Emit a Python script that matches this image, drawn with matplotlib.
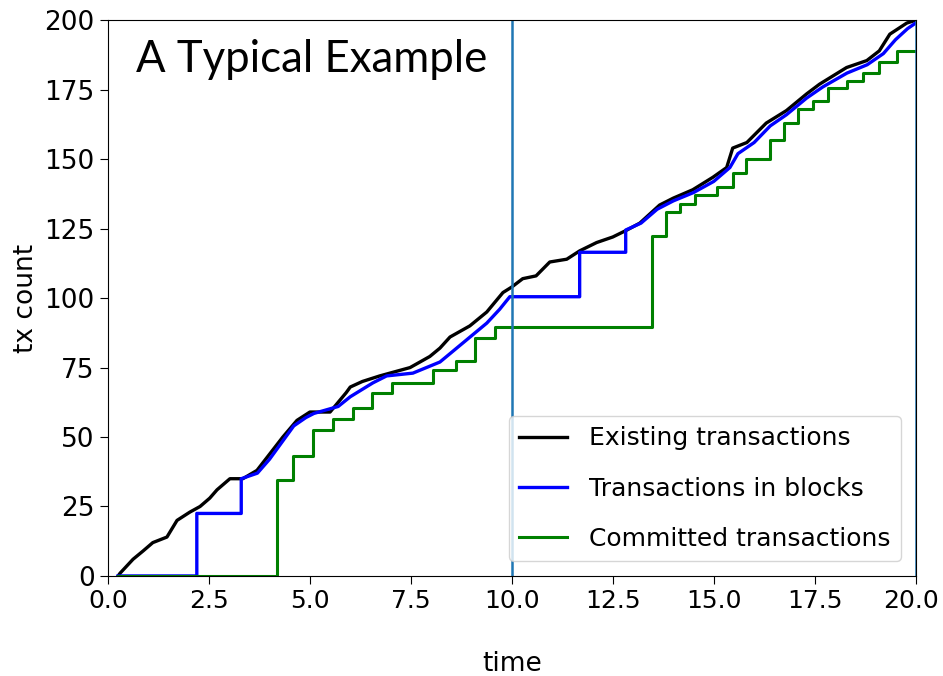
import matplotlib
matplotlib.use('Agg')
import matplotlib.pyplot as plt
import matplotlib.transforms as mtransforms

plt.rcParams['font.size'] = 18

# existing transactions (black)
exist_t = [0.25, 0.3, 0.62, 0.87, 1.11, 1.46, 1.71, 2.03, 2.28, 2.52, 2.7, 3.02, 3.34,
           3.69, 4.01, 4.33, 4.68, 5.0, 5.5, 5.9, 6.0, 6.3, 6.73, 7.48, 7.97, 8.22,
           8.47, 8.96, 9.38, 9.78, 10.0, 10.27, 10.6, 10.94, 11.36, 11.68, 12.1,
           12.5, 12.85, 13.17, 13.66, 14.0, 14.48, 14.98, 15.32, 15.47, 15.82,
           16.3, 16.8, 17.3, 17.62, 18.29, 18.79, 19.1, 19.36, 19.78, 20.0]
exist_n = [0, 1, 6, 9, 12, 14, 20, 23, 25, 28, 31, 35, 35,
           38, 44, 50, 56, 59, 59, 66, 68, 70, 72, 75, 79, 82,
           86, 90, 95, 102, 104, 107, 108, 113, 114, 117, 120,
           122, 124.5, 127, 133.5, 136, 139, 143.5, 147, 154, 156,
           163, 167.5, 173.5, 177, 183, 185.5, 189, 195, 199, 200]

# transactions in blocks (blue); repeated times are the block jumps
block_t = [0.25, 2.2, 2.2, 3.3, 3.3, 3.7, 4.0, 4.3, 4.6, 4.9, 5.1, 5.7, 6.0, 6.56,
           6.9, 7.55, 8.22, 8.8, 9.38, 9.7, 9.95, 11.68, 11.68, 12.82, 12.82,
           13.2, 13.6, 14.0, 14.5, 15.0, 15.4, 15.6, 16.0, 16.4, 16.8, 17.3,
           17.7, 18.3, 18.8, 19.2, 19.5, 19.8, 20.0]
block_n = [0, 0, 22.5, 22.5, 35, 37, 42, 48, 54, 57, 58.5, 61, 64.5, 69.5,
           72, 73, 77, 84, 91, 96, 100.5, 100.5, 116.5, 116.5, 124.5,
           127, 132, 135, 138, 142, 147, 152, 156, 162, 166, 172,
           176, 181, 184, 188, 193, 197, 199]

# committed transactions (green)
commit_t = [0.25, 4.18, 4.58, 5.07, 5.57, 6.06, 6.53, 7.03, 8.04, 8.61, 9.08,
            9.58, 13.46, 13.81, 14.16, 14.53, 15.07, 15.47, 15.8, 16.4, 16.75,
            17.08, 17.45, 17.82, 18.3, 18.7, 19.1, 19.55, 20.0]
commit_n = [0, 34.5, 43, 52.5, 56.5, 60.5, 66, 69.5, 74, 77.5, 85.5,
            89.5, 122.5, 131, 134, 137, 140, 145, 150, 157, 163,
            168, 171, 175.5, 178, 181, 185, 189, 189]

fig = plt.figure(figsize=(9.43, 6.76), dpi=100)
ax = fig.add_axes([0.1145, 0.148, 0.8565, 0.822])

ax.plot(exist_t, exist_n, color='black', lw=2.4, label='Existing transactions')
ax.plot(block_t, block_n, color='blue', lw=2.4, label='Transactions in blocks')
ax.plot(commit_t, commit_n, color='green', lw=2.2, drawstyle='steps-post',
        label='Committed transactions')
ax.axvline(10, color='#1f77b4', lw=1.8)
ax.axvline(20, color='#1f77b4', lw=1.8)

ax.set_xlim(0, 20)
ax.set_ylim(0, 200)
ax.set_xticks([0, 2.5, 5, 7.5, 10, 12.5, 15, 17.5, 20])
ax.set_xticklabels(['0.0', '2.5', '5.0', '7.5', '10.0', '12.5', '15.0', '17.5', '20.0'])
ax.set_yticks([0, 25, 50, 75, 100, 125, 150, 175, 200])
ax.tick_params(labelsize=19, length=6)
ax.tick_params(axis='x', labelsize=18)
# keep the last x label inside the image
last = ax.get_xticklabels()[-1]
last.set_transform(last.get_transform() +
                   mtransforms.ScaledTranslation(-5 / 100, 0, fig.dpi_scale_trans))
ax.set_xlabel('time', fontsize=19, labelpad=27)
ax.set_ylabel('tx count', fontsize=19, labelpad=4)

ax.legend(loc='lower right', fontsize=18, handlelength=1.9, handletextpad=0.9,
          labelspacing=1.05, borderaxespad=0.6)

ax.text(0.035, 0.93, 'A Typical Example', transform=ax.transAxes,
        fontsize=31.5, family='Lato', va='center', ha='left')

plt.savefig('out.png', dpi=100)
